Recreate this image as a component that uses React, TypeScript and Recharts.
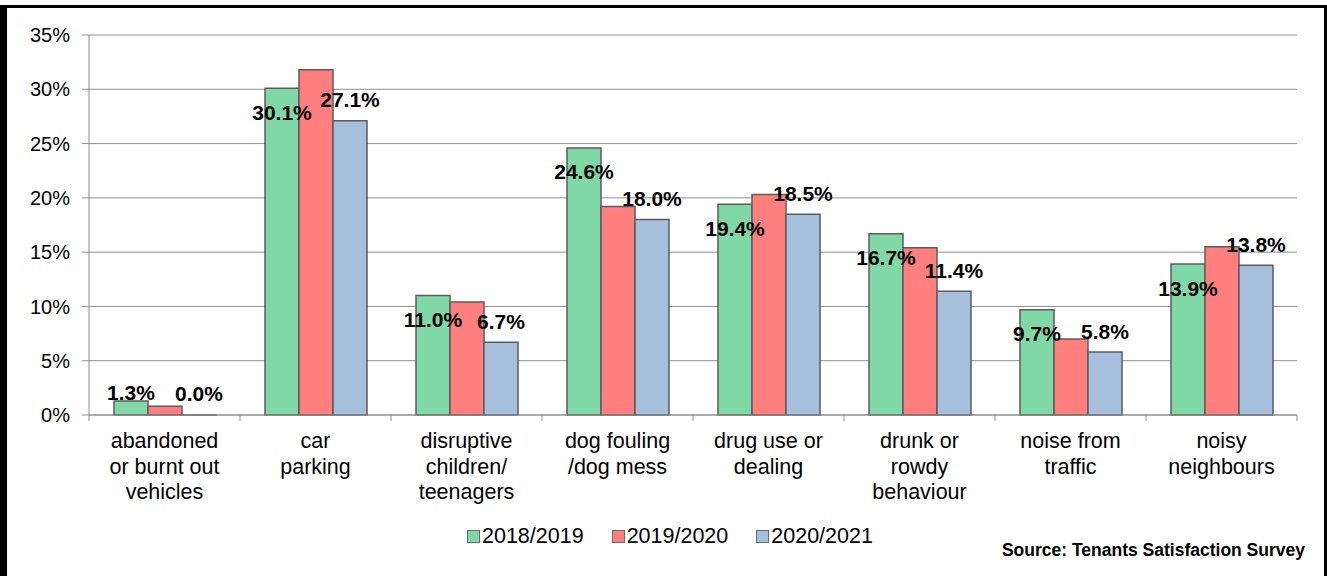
import React from "react";
import {
  BarChart,
  Bar,
  XAxis,
  YAxis,
  CartesianGrid,
  Legend,
  LabelList,
} from "recharts";

// --- Data ---

const categories = [
  "abandoned\nor burnt out\nvehicles",
  "car\nparking",
  "disruptive\nchildren/\nteenagers",
  "dog fouling\n/dog mess",
  "drug use or\ndealing",
  "drunk or\nrowdy\nbehaviour",
  "noise from\ntraffic",
  "noisy\nneighbours",
];

const values2018 = [1.3, 30.1, 11.0, 24.6, 19.4, 16.7, 9.7, 13.9];
const values2019 = [0.8, 31.8, 10.4, 19.2, 20.3, 15.4, 7.0, 15.5];
const values2020 = [0.0, 27.1, 6.7, 18.0, 18.5, 11.4, 5.8, 13.8];

const seriesNames = ["2018/2019", "2019/2020", "2020/2021"];
const yTicks = [0, 5, 10, 15, 20, 25, 30, 35];

const data = categories.map((name, i) => ({
  name,
  s2018: values2018[i],
  s2019: values2019[i],
  s2020: values2020[i],
}));

// --- Layout ---

const W = 1327;
const H = 576;
const M = { top: 35, right: 30, left: 0, bottom: 0 };
const Y_WIDTH = 89;
const X_HEIGHT = H - 415;
const BAND = (W - Y_WIDTH - M.right) / categories.length;
const FONT = "Arial, 'Liberation Sans', sans-serif";

const colors = ["#80d8a6", "#ff7f7f", "#a6bfdd"];
const barStroke = "#5c5c5c";
const gridColor = "#8f8f8f";

const CategoryTick = (props: any) => {
  const { x, y, payload, index } = props;
  const lines: string[] = String(payload.value).split("\n");
  const left = x - BAND / 2;
  const right = x + BAND / 2;
  return (
    <g>
      <line x1={left} x2={left} y1={y} y2={y + 6} stroke={gridColor} />
      {index === categories.length - 1 && (
        <line x1={right} x2={right} y1={y} y2={y + 6} stroke={gridColor} />
      )}
      {lines.map((ln, i) => (
        <text
          key={i}
          x={x}
          y={y + 33 + i * 25.5}
          textAnchor="middle"
          fontSize={21.5}
          fontFamily={FONT}
          fill="#000"
        >
          {ln}
        </text>
      ))}
    </g>
  );
};

const labelStyle = {
  fontSize: 21,
  fontWeight: 700,
  fontFamily: FONT,
  fill: "#000",
};

const GreenLabel = (props: any) => {
  const { x, y, width, height, value } = props;
  const cy = height < 40 ? y - 8 : y + 24;
  return (
    <text x={x + width / 2} y={cy} textAnchor="middle" dominantBaseline="central" style={labelStyle}>
      {Number(value).toFixed(1)}%
    </text>
  );
};

const BlueLabel = (props: any) => {
  const { x, y, width, value } = props;
  return (
    <text x={x + width / 2} y={y - 21} textAnchor="middle" dominantBaseline="central" style={labelStyle}>
      {Number(value).toFixed(1)}%
    </text>
  );
};

const LegendContent = () => (
  <div style={{ display: "flex", alignItems: "center", fontFamily: FONT, fontSize: 21.5, color: "#000" }}>
    {seriesNames.map((n, i) => (
      <div key={n} style={{ display: "flex", alignItems: "center", marginRight: 28 }}>
        <span
          style={{
            display: "inline-block",
            width: 11,
            height: 11,
            background: colors[i],
            border: "1px solid #6a6a6a",
            marginRight: 2,
          }}
        />
        <span>{n}</span>
      </div>
    ))}
  </div>
);

export default function App() {
  return (
    <div style={{ position: "absolute", left: 0, top: 0, width: W, height: H, background: "#fff", overflow: "hidden" }}>
      <div
        style={{
          position: "absolute",
          left: 0,
          top: 5,
          width: W - 10,
          height: H + 20,
          borderLeft: "7px solid #000",
          borderTop: "3px solid #000",
          borderRight: "3px solid #000",
        }}
      />
      <div style={{ position: "absolute", left: 0, top: 0 }}>
        <BarChart width={W} height={H} data={data} margin={M} barGap={0} barCategoryGap={25}>
          <CartesianGrid vertical={false} stroke={gridColor} />
          <XAxis
            dataKey="name"
            height={X_HEIGHT}
            interval={0}
            tickLine={false}
            tickSize={0}
            tickMargin={0}
            axisLine={{ stroke: gridColor }}
            tick={<CategoryTick />}
          />
          <YAxis
            width={Y_WIDTH}
            domain={[0, 35]}
            ticks={yTicks}
            interval={0}
            tickFormatter={(v: number) => `${v}%`}
            axisLine={{ stroke: gridColor }}
            tickLine={{ stroke: gridColor }}
            tickSize={7}
            tickMargin={12}
            tick={{ fill: "#000", fontSize: 20, fontFamily: FONT }}
          />
          <YAxis
            yAxisId="r"
            orientation="right"
            width={0}
            domain={[0, 35]}
            tick={false}
            tickLine={false}
            axisLine={{ stroke: gridColor }}
          />
          <Legend
            layout="horizontal"
            verticalAlign="middle"
            align="center"
            content={<LegendContent />}
            wrapperStyle={{ top: 524, left: 467, width: 540 }}
          />
          <Bar dataKey="s2018" name={seriesNames[0]} fill={colors[0]} stroke={barStroke} strokeWidth={1.5} isAnimationActive={false}>
            <LabelList dataKey="s2018" content={<GreenLabel />} />
          </Bar>
          <Bar dataKey="s2019" name={seriesNames[1]} fill={colors[1]} stroke={barStroke} strokeWidth={1.5} isAnimationActive={false} />
          <Bar dataKey="s2020" name={seriesNames[2]} fill={colors[2]} stroke={barStroke} strokeWidth={1.5} minPointSize={0.01} isAnimationActive={false}>
            <LabelList dataKey="s2020" content={<BlueLabel />} />
          </Bar>
        </BarChart>
      </div>
      <div
        style={{
          position: "absolute",
          right: 22,
          top: 540,
          fontFamily: FONT,
          fontWeight: 700,
          fontSize: 17.5,
          color: "#000",
        }}
      >
        Source: Tenants Satisfaction Survey
      </div>
    </div>
  );
}
